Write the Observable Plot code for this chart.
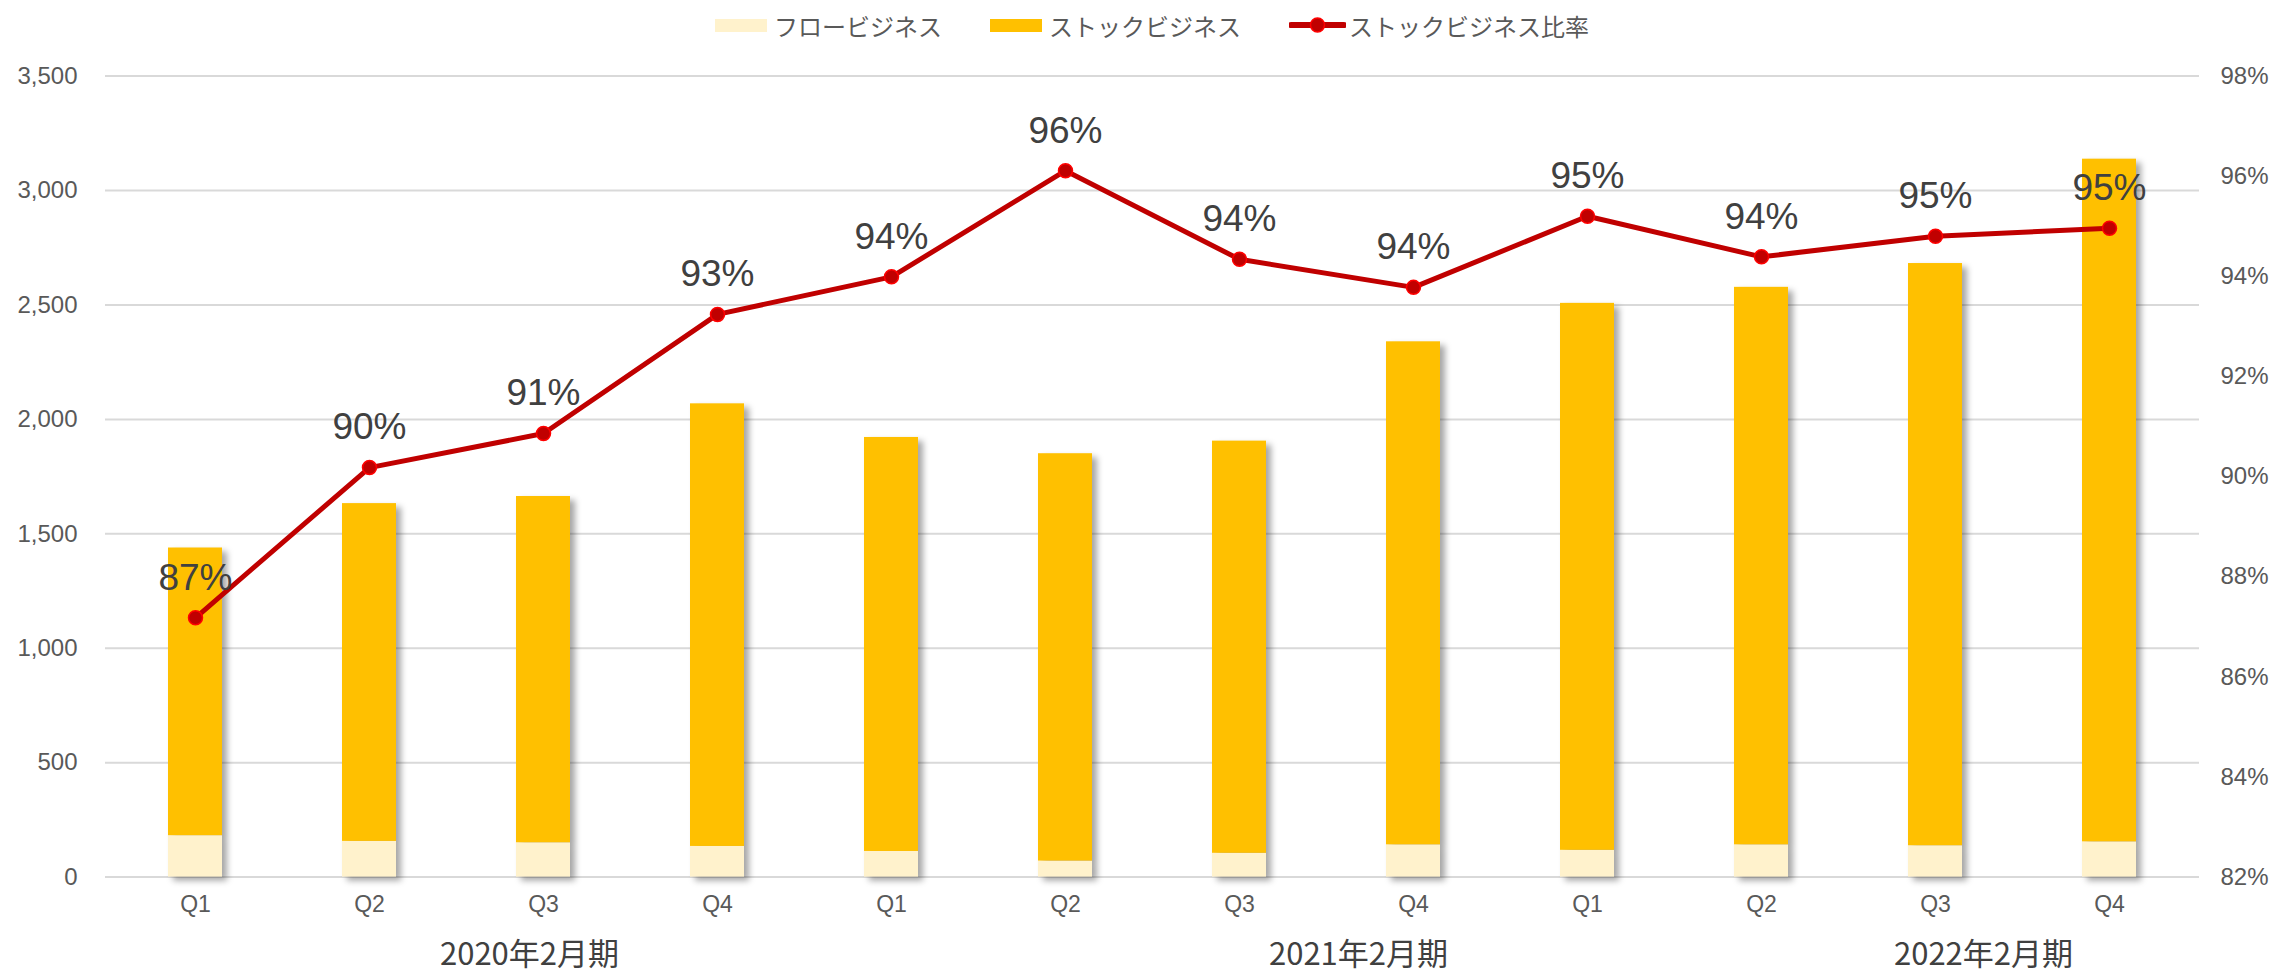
<!DOCTYPE html>
<html>
<head>
<meta charset="utf-8">
<script src="https://cdn.jsdelivr.net/npm/d3@7"></script>
<script src="https://cdn.jsdelivr.net/npm/@observablehq/plot@0.6"></script>
<style>
  html, body { margin: 0; padding: 0; background: #fff; }
  #legend { height: 50px; display: flex; align-items: center; padding-left: 715px; box-sizing: border-box;
    font-family: "Noto Sans CJK JP", "Liberation Sans", sans-serif; font-size: 24px; color: #595959; }
  .item { display: flex; align-items: center; margin-right: 48px; }
  .sw { width: 52px; height: 13px; margin-right: 7px; }
  #chart svg { display: block; }
</style>
</head>
<body>
<div id="legend"></div>
<div id="chart"></div>
<script>
// ---- data ----
const fiscalYears = ["2020年2月期", "2021年2月期", "2022年2月期"];
const quarters = ["Q1", "Q2", "Q3", "Q4"];
const flowValues  = [181, 156, 150, 134, 112, 70, 104, 141, 117, 141, 137, 154];
const stockValues = [1257, 1476, 1513, 1934, 1809, 1780, 1801, 2198, 2390, 2436, 2544, 2983];
const stockRatio  = [87.18, 90.18, 90.86, 93.24, 93.99, 96.11, 94.34, 93.78, 95.2, 94.39, 94.8, 94.96];
const leftTicks = [0, 500, 1000, 1500, 2000, 2500, 3000, 3500];
const rightTicks = [82, 84, 86, 88, 90, 92, 94, 96, 98];
const seriesNames = ["フロービジネス", "ストックビジネス", "ストックビジネス比率"];
// year label anchored under a quarter (index into categories)
const yearLabelAnchor = [2, 7, 10];

// ---- derived tables ----
const categories = fiscalYears.flatMap(fy => quarters.map(q => `${fy}|${q}`));
const bars = [];
categories.forEach((c, i) => {
  bars.push({cat: c, series: seriesNames[0], value: flowValues[i]});
  bars.push({cat: c, series: seriesNames[1], value: stockValues[i]});
});
const yMax = 3500, rMin = 82, rMax = 98;
const toY = r => (r - rMin) / (rMax - rMin) * yMax;
const ratioData = categories.map((c, i) => ({cat: c, r: stockRatio[i], y: toY(stockRatio[i])}));
const yearDx = [-14, -55, 48];
const yearData = fiscalYears.map((fy, i) => ({cat: categories[yearLabelAnchor[i]], label: fy, dx: yearDx[i]}));

const colors = {[seriesNames[0]]: "#FFF2CC", [seriesNames[1]]: "#FFC000"};
const lineColor = "#C00000";

// ---- legend ----
const legend = document.getElementById("legend");
legend.innerHTML =
  `<div class="item"><div class="sw" style="background:${colors[seriesNames[0]]}"></div>${seriesNames[0]}</div>` +
  `<div class="item"><div class="sw" style="background:${colors[seriesNames[1]]}"></div>${seriesNames[1]}</div>` +
  `<div class="item"><svg width="57" height="18" style="margin-right:3px"><line x1="2" y1="9" x2="55" y2="9" stroke="${lineColor}" stroke-width="6" stroke-linecap="round"/><circle cx="28.5" cy="9" r="7" fill="${lineColor}" stroke="#FF0000" stroke-width="1.5"/></svg>${seriesNames[2]}</div>`;

// ---- chart ----
const chart = Plot.plot({
  width: 2270,
  height: 925,
  marginLeft: 105,
  marginRight: 71,
  marginTop: 25.6,
  marginBottom: 98.4,
  style: {fontFamily: "'Liberation Sans', 'Noto Sans CJK JP', sans-serif", background: "#fff", overflow: "visible"},
  x: {domain: categories, paddingInner: 0.69, paddingOuter: 0.345, label: null},
  y: {domain: [0, yMax], label: null},
  marks: [
    Plot.ruleY(leftTicks, {stroke: "#D9D9D9", strokeWidth: 2}),
    Plot.barY(bars, Plot.stackY({x: "cat", y: "value", fill: d => colors[d.series], order: seriesNames.slice(0, 2)})),
    Plot.axisY({ticks: leftTicks, tickSize: 0, tickPadding: 28, tickFormat: d3.format(","), fontSize: 24, fill: "#595959", label: null}),
    Plot.axisY({anchor: "right", ticks: rightTicks.map(toY), tickSize: 0, tickPadding: 21,
      tickFormat: v => Math.round(rMin + v / yMax * (rMax - rMin)) + "%", fontSize: 24, fill: "#595959", label: null}),
    Plot.axisX({tickSize: 0, tickPadding: 19, tickFormat: c => c.split("|")[1], fontSize: 23, fill: "#595959", label: null}),
    Plot.line(ratioData, {x: "cat", y: "y", stroke: lineColor, strokeWidth: 5}),
    Plot.dot(ratioData, {x: "cat", y: "y", r: 7, fill: lineColor, stroke: "#FF0000", strokeWidth: 1.5}),
    Plot.text(ratioData, {x: "cat", y: "y", text: d => Math.round(d.r) + "%", dy: -40, fontSize: 37, fill: "#404040"}),
    ...yearData.map(d => Plot.text([d], {x: "cat", frameAnchor: "bottom", text: "label", dx: d.dx, dy: 88,
      fontSize: 31, fill: "#404040", fontFamily: "'Noto Sans CJK JP', sans-serif"}))
  ]
});
chart.querySelectorAll("g[aria-label='bar']").forEach(g => {
  g.style.filter = "drop-shadow(5px 4px 3px rgba(0,0,0,0.35))";
});
document.getElementById("chart").appendChild(chart);
</script>
</body>
</html>
